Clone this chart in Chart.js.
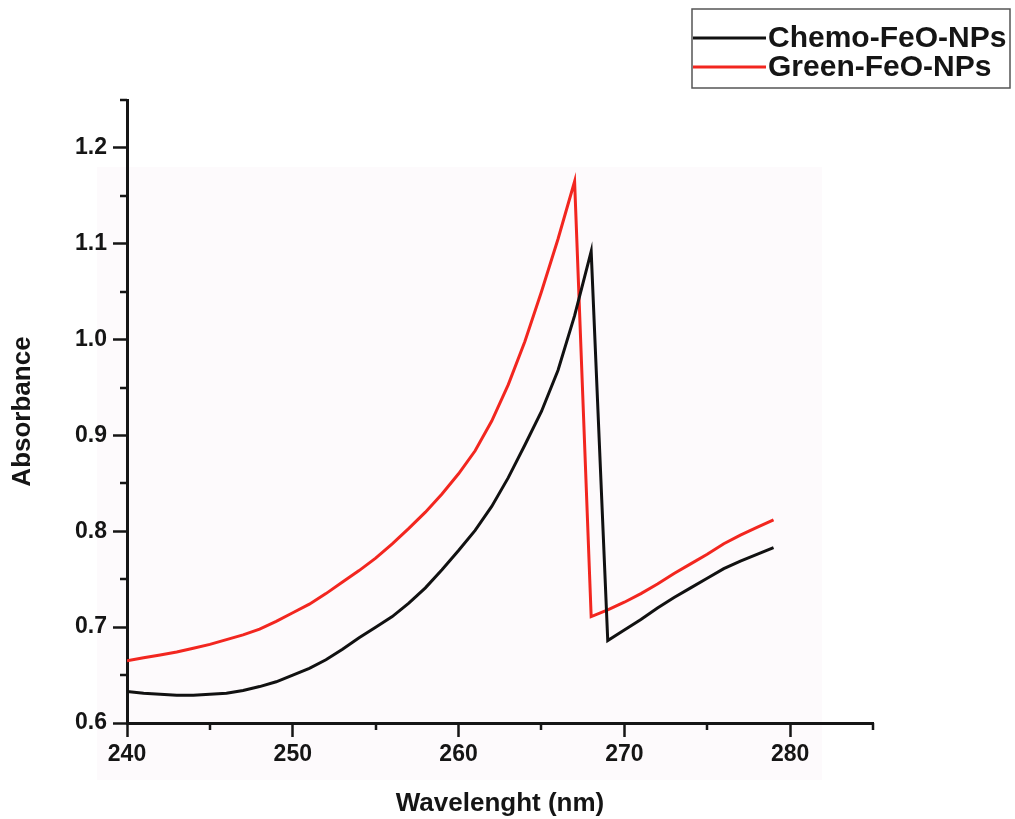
<!DOCTYPE html>
<html><head><meta charset="utf-8">
<script src="https://cdn.jsdelivr.net/npm/chart.js@4.4.0/dist/chart.umd.min.js"></script>
<style>html,body{margin:0;padding:0;background:#fff;} #wrap{width:1015px;height:819px;position:relative;}</style>
</head><body><div id="wrap"><canvas id="c" width="1015" height="819"></canvas></div>
<script>
const wavelengths = [240,241,242,243,244,245,246,247,248,249,250,251,252,253,254,255,256,257,258,259,260,261,262,263,264,265,266,267,268,269,270,271,272,273,274,275,276,277,278,279];
const chemo = [0.633,0.631,0.630,0.629,0.629,0.630,0.631,0.634,0.638,0.643,0.650,0.657,0.666,0.677,0.689,0.700,0.711,0.725,0.741,0.760,0.780,0.801,0.826,0.856,0.890,0.925,0.968,1.025,1.092,0.686,0.697,0.708,0.720,0.731,0.741,0.751,0.761,0.769,0.776,0.783];
const green = [0.665,0.668,0.671,0.674,0.678,0.682,0.687,0.692,0.698,0.706,0.715,0.724,0.735,0.747,0.759,0.772,0.787,0.803,0.820,0.839,0.860,0.884,0.915,0.953,0.998,1.050,1.105,1.165,0.711,0.718,0.726,0.735,0.745,0.756,0.766,0.776,0.787,0.796,0.804,0.812];
const seriesLabels = ['Chemo-FeO-NPs','Green-FeO-NPs'];
const seriesColors = ['#111111','#f2261f'];
const xTickValues = [240,250,260,270,280];
const xMinorTicks = [245,255,265,275,285];
const yTickValues = [0.6,0.7,0.8,0.9,1.0,1.1,1.2];
const yMinorTicks = [0.65,0.75,0.85,0.95,1.05,1.15,1.25];
const xTitle = 'Wavelenght (nm)';
const yTitle = 'Absorbance';

const FONT = '"Liberation Sans", Arial, Helvetica, sans-serif';
const INK = '#151515';

const bgPlugin = {
  id: 'bg',
  beforeDraw(chart) {
    const ctx = chart.ctx;
    ctx.save();
    ctx.fillStyle = '#ffffff';
    ctx.fillRect(0, 0, chart.width, chart.height);
    ctx.fillStyle = '#fdfafc';
    ctx.fillRect(97, 167, 725, 613);
    ctx.restore();
  }
};

const minorTickPlugin = {
  id: 'minorTicks',
  afterDraw(chart) {
    const ctx = chart.ctx, xs = chart.scales.x, ys = chart.scales.y;
    const a = chart.chartArea;
    ctx.save();
    ctx.strokeStyle = INK;
    ctx.lineWidth = 2.5;
    ctx.beginPath();
    xMinorTicks.forEach(v => {
      const px = Math.round(xs.getPixelForValue(v));
      ctx.moveTo(px, a.bottom);
      ctx.lineTo(px, a.bottom + 7);
    });
    yMinorTicks.forEach(v => {
      const py = Math.round(ys.getPixelForValue(v));
      ctx.moveTo(a.left, py);
      ctx.lineTo(a.left - 7, py);
    });
    ctx.stroke();
    ctx.restore();
  }
};

const boxLegend = {
  id: 'boxLegend',
  afterDraw(chart) {
    const ctx = chart.ctx;
    const L = 692, T = 9, R = 1010, B = 88;
    ctx.save();
    ctx.strokeStyle = '#555';
    ctx.lineWidth = 1.5;
    ctx.strokeRect(L, T, R - L, B - T);
    chart.data.datasets.forEach((ds, i) => {
      const y = 38 + i * 29;
      ctx.strokeStyle = ds.borderColor;
      ctx.lineWidth = 3;
      ctx.beginPath();
      ctx.moveTo(L + 1, y);
      ctx.lineTo(766, y);
      ctx.stroke();
      ctx.fillStyle = INK;
      ctx.font = 'bold 30px ' + FONT;
      ctx.textBaseline = 'middle';
      ctx.textAlign = 'left';
      ctx.fillText(ds.label, 768, y + 1);
    });
    ctx.restore();
  }
};

const datasets = [chemo, green].map((vals, i) => ({
  label: seriesLabels[i],
  data: wavelengths.map((w, j) => ({x: w, y: vals[j]})),
  borderColor: seriesColors[i],
  backgroundColor: seriesColors[i],
  borderWidth: 3,
  pointRadius: 0,
  tension: 0,
  fill: false
}));

new Chart(document.getElementById('c'), {
  type: 'line',
  data: { datasets },
  plugins: [bgPlugin, minorTickPlugin, boxLegend],
  options: {
    responsive: false,
    animation: false,
    layout: { padding: { left: 0, right: 142, top: 100, bottom: 0 } },
    plugins: { legend: { display: false }, tooltip: { enabled: false } },
    scales: {
      x: {
        type: 'linear',
        min: 240, max: 285,
        afterFit(scale) { scale.height = 96; },
        afterBuildTicks(scale) { scale.ticks = xTickValues.map(v => ({value: v})); },
        border: { display: true, color: INK, width: 3 },
        grid: { drawOnChartArea: false, drawTicks: true, tickLength: 14, tickColor: INK, tickWidth: 2.5 },
        ticks: { color: INK, font: { family: FONT, size: 23, weight: 'bold' }, padding: 4, maxRotation: 0,
                 callback: v => String(v) },
        title: { display: true, text: xTitle, color: INK, font: { family: FONT, size: 26, weight: 'bold' }, padding: { top: 2, bottom: 0 } }
      },
      y: {
        type: 'linear',
        min: 0.6, max: 1.25,
        afterFit(scale) { scale.width = 127; },
        afterBuildTicks(scale) { scale.ticks = yTickValues.map(v => ({value: v})); },
        border: { display: true, color: INK, width: 3 },
        grid: { drawOnChartArea: false, drawTicks: true, tickLength: 14, tickColor: INK, tickWidth: 2.5 },
        ticks: { color: INK, font: { family: FONT, size: 23, weight: 'bold' }, padding: 6,
                 callback: v => Number(v).toFixed(1) },
        title: { display: true, text: yTitle, color: INK, font: { family: FONT, size: 26, weight: 'bold' }, padding: { top: 7, bottom: 0 } }
      }
    }
  }
});
</script>
</body></html>
